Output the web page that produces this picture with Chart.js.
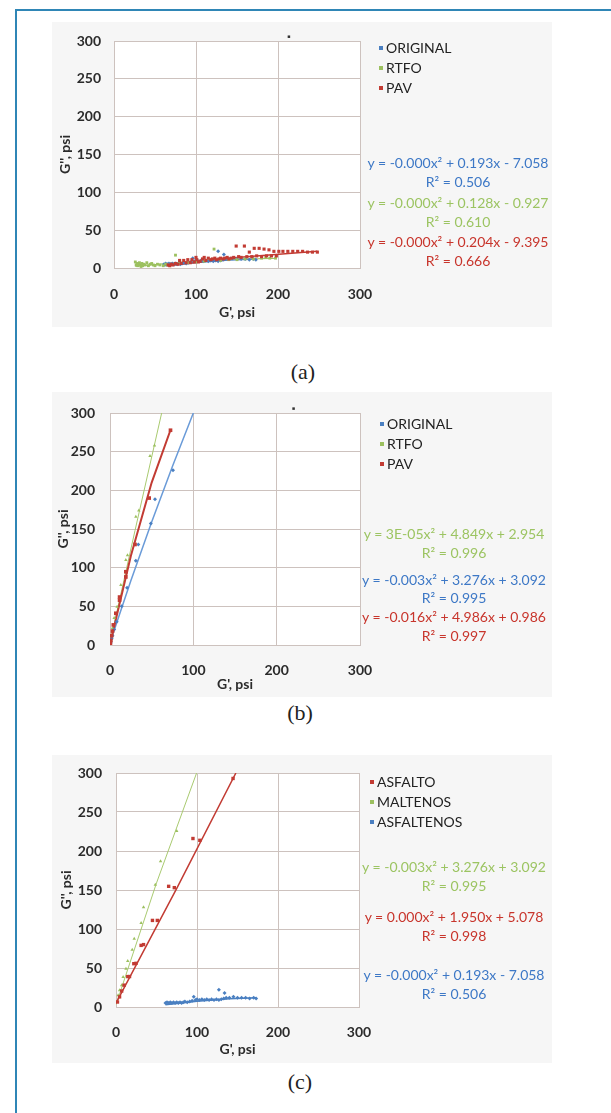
<!DOCTYPE html>
<html>
<head>
<meta charset="utf-8">
<script src="https://cdn.jsdelivr.net/npm/chart.js@4.4.1/dist/chart.umd.min.js"></script>
<style>
  body { margin: 0; width: 611px; height: 1113px; background: #fff; position: relative; overflow: hidden; font-family: Lato, sans-serif; }
  .frame { position: absolute; left: 15px; top: 9px; width: 610px; height: 1120px; border-left: 2px solid #2f86b6; border-top: 2px solid #2f86b6; }
  .panel { position: absolute; background: #f6f6f6; }
  canvas { position: absolute; }
  .leg { position: absolute; font-size: 14px; color: #222; }
  .leg div { height: 20px; line-height: 20px; white-space: nowrap; }
  .leg span { display: inline-block; width: 4px; height: 4px; margin-right: 3px; vertical-align: middle; position: relative; top: -1px; }
  .eq { position: absolute; width: 220px; text-align: center; font-size: 14px; line-height: 20px; height: 20px; white-space: nowrap; }
  .cap { position: absolute; width: 60px; text-align: center; font-family: 'Liberation Serif', serif; font-size: 22px; line-height: 26px; color: #222; }
</style>
</head>
<body>
<div class="frame"></div>

<div class="panel" style="left:52px;top:22px;width:500px;height:305px"></div>
<div class="panel" style="left:52px;top:392px;width:500px;height:305px"></div>
<div class="panel" style="left:52px;top:755px;width:500px;height:308px"></div>

<canvas id="chartA" width="350" height="305" style="left:40px;top:25px"></canvas>
<canvas id="chartB" width="350" height="300" style="left:40px;top:395px"></canvas>
<canvas id="chartC" width="350" height="305" style="left:40px;top:755px"></canvas>

<div id="legA" class="leg" style="left:379px;top:38px"></div>
<div id="legB" class="leg" style="left:380px;top:414px"></div>
<div id="legC" class="leg" style="left:370px;top:772px"></div>

<div id="eqs"></div>

<div class="cap" style="left:273px;top:359px">(a)</div>
<div class="cap" style="left:270px;top:700px">(b)</div>
<div class="cap" style="left:270px;top:1069px">(c)</div>

<script>
// ---- shared axis data
const xTicks = [0, 100, 200, 300];
const yTicks = [0, 50, 100, 150, 200, 250, 300];
const xTitle = "G', psi";
const yTitle = "G'', psi";

const blue = '#4a7fc1';
const green = '#9cc05f';
const red = '#c23b33';

// ---- (a) ORIGINAL / RTFO / PAV
const namesA = ['ORIGINAL', 'RTFO', 'PAV'];

// asfaltenos / original points (same fit in (a) and (c))
const asfaltenosX = [61,63,65,67,69,71,73,75,77,79,81,83,85,88,91,94,96,98,100,103,106,109,112,115,118,121,124,127,127,130,133,134,136,140,145,150,155,160,165,170,173];
const asfaltenosY = [5,6,5,6,5,6,5,6,5,6,5,6,7,6,7,8,13,9,10,9,10,9,10,9,10,9,10,9,22,10,11,18,12,12,13,12,12,12,11,12,11];
const asfaltenosTrendX = [61, 100, 140, 173];
const asfaltenosTrendY = [3, 7.4, 10.6, 12];

const rtfoAX = [26,27,28,29,30,31,32,33,34,35,36,38,40,42,44,46,48,50,53,56,60,63,65,75,80,90,100,110,122,130,140,150,160,170,180,185,190,197];
const rtfoAY = [8,4,6,3,5,7,4,2,6,3,5,4,7,3,5,6,4,3,5,4,3,5,4,17,6,7,8,9,25,10,11,11,12,12,13,14,13,13];
const rtfoATrendX = [26, 110, 197];
const rtfoATrendY = [2.2, 10.5, 12.7];

const pavAX = [66,68,70,72,75,78,80,82,85,88,90,93,95,98,100,101,103,105,108,110,112,115,118,120,123,125,128,130,133,135,138,140,143,146,149,152,155,159,162,165,168,171,174,177,180,183,186,189,192,195,198,201,206,212,218,224,230,236,242,248];
const pavAY = [4,3,5,4,6,5,10,6,10,7,11,7,11,8,14,11,8,9,12,14,10,13,11,12,13,11,12,13,12,13,14,12,13,14,29,15,14,29,15,21,15,26,16,26,15,25,16,24,16,22,16,22,22,22,22,22,22,21,21,21];
const pavATrendX = [66, 150, 248];
const pavATrendY = [3, 14, 22];

// small dark dot just above the plot top
const strayAX = [213];
const strayAY = [306];

const eqA = ['y = -0.000x² + 0.193x - 7.058', 'R² = 0.506',
             'y = -0.000x² + 0.128x - 0.927', 'R² = 0.610',
             'y = -0.000x² + 0.204x - 9.395', 'R² = 0.666'];

// ---- (b) ORIGINAL / RTFO / PAV
const namesB = ['ORIGINAL', 'RTFO', 'PAV'];
const origBX = [0.5,1,2,3,5,8,14,20.5,31,34,49,54,75.6];
const origBY = [2,4,8,12,20,30,50,74,109,130,157,188.5,226];
const origBTrendX = [0, 25, 50, 75, 100];
const origBTrendY = [3, 83, 159, 231, 300];

const rtfoBX = [0.5,1,2,3,5,8.5,13,19,21,31,34.6,48,53.4];
const rtfoBY = [3,6,12,22,35,49.5,77.5,110,116,165.7,174,244.5,258];
const rtfoBTrendX = [0, 30, 62];
const rtfoBTrendY = [3, 148, 300];

const pavBX = [0.5,1,2,3,4,7,11.5,11.5,19,19,30,47,72.6];
const pavBY = [2,6,12,18,26,41,58,62,88,94.7,130,190,277.7];
const pavBTrendX = [0, 25, 50, 72.6];
const pavBTrendY = [1, 115, 210, 278];

const strayBX = [220];
const strayBY = [306];

const eqB = ['y = 3E-05x² + 4.849x + 2.954', 'R² = 0.996',
             'y = -0.003x² + 3.276x + 3.092', 'R² = 0.995',
             'y = -0.016x² + 4.986x + 0.986', 'R² = 0.997'];

// ---- (c) ASFALTO / MALTENOS / ASFALTENOS
const namesC = ['ASFALTO', 'MALTENOS', 'ASFALTENOS'];
const asfaltoX = [1.8,4.4,7,10,14.5,16.7,22,24.7,31,34,45,51,65,72,95,103.5,144.5];
const asfaltoY = [6.4,13,20.5,28,39,39,55.5,56,79,80,111,111,154.7,153,216,213.7,293];
const asfaltoTrendX = [0, 75, 148];
const asfaltoTrendY = [5, 152, 300];

const maltenosX = [0.9,2.6,4.4,7,8.8,12.3,14.5,20,22.5,31,34,48.5,55,75];
const maltenosY = [6.4,15,21.4,27.8,38.5,49,59,73.5,87.6,107.7,128,156.8,186.8,225.6];
const maltenosTrendX = [0, 50, 99.5];
const maltenosTrendY = [3, 159, 300];

const eqC = ['y = -0.003x² + 3.276x + 3.092', 'R² = 0.995',
             'y = 0.000x² + 1.950x + 5.078', 'R² = 0.998',
             'y = -0.000x² + 0.193x - 7.058', 'R² = 0.506'];

// ---- helpers
const gridColor = '#cdc2be';
const tickColor = '#2b2b2b';
const tickFont = { family: 'Lato', size: 14, weight: 'bold' };
const titleFont = { family: 'Lato', size: 14, weight: 'bold' };

function pts(xs, ys) {
  return xs.map((x, i) => ({ x: x, y: ys[i] }));
}

function dots(label, xs, ys, color, style, r) {
  return { label: label, data: pts(xs, ys), showLine: false, pointStyle: style,
           pointRadius: r, pointBackgroundColor: color, pointBorderColor: color, pointBorderWidth: 0 };
}

function trend(xs, ys, color, w) {
  return { label: 'trend', data: pts(xs, ys), showLine: true, pointRadius: 0,
           borderColor: color, borderWidth: w, fill: false };
}

const plotBg = {
  id: 'plotBg',
  beforeDraw(chart) {
    const a = chart.chartArea, ctx = chart.ctx;
    ctx.save();
    ctx.fillStyle = '#ffffff';
    ctx.fillRect(a.left, a.top, a.right - a.left, a.bottom - a.top);
    ctx.restore();
  }
};

// points above the y max are skipped by the point element, so draw them here through the scales
const strayDots = {
  id: 'strayDots',
  afterDatasetsDraw(chart, args, opts) {
    if (!opts.xs) return;
    const ctx = chart.ctx, sx = chart.scales.x, sy = chart.scales.y;
    ctx.save();
    ctx.fillStyle = '#333';
    opts.xs.forEach((x, i) => {
      const px = sx.getPixelForValue(x), py = sy.getPixelForValue(opts.ys[i]);
      ctx.fillRect(px - 1, py - 1, 2.5, 2.5);
    });
    ctx.restore();
  }
};

function buildChart(id, datasets, g, strayXs, strayYs) {
  return new Chart(document.getElementById(id), {
    type: 'scatter',
    data: { datasets: datasets },
    plugins: [plotBg, strayDots],
    options: {
      responsive: false,
      animation: false,
      devicePixelRatio: 1,
      layout: { padding: { left: 0, top: g.padTop, right: g.padRight, bottom: 0 } },
      plugins: {
        legend: { display: false },
        tooltip: { enabled: false },
        strayDots: { xs: strayXs, ys: strayYs }
      },
      scales: {
        x: {
          type: 'linear', min: 0, max: 300,
          afterBuildTicks: s => { s.ticks = xTicks.map(v => ({ value: v })); },
          grid: { color: gridColor, drawTicks: false },
          border: { color: gridColor },
          ticks: { padding: g.xTickPad, color: tickColor, font: tickFont },
          title: { display: true, text: xTitle, color: '#2b2b2b', font: titleFont, padding: { top: 0, bottom: g.xTitlePad } },
          afterFit: s => { s.height = g.xHeight; s.paddingLeft = 0; s.paddingRight = 0; }
        },
        y: {
          type: 'linear', min: 0, max: 300,
          afterBuildTicks: s => { s.ticks = yTicks.map(v => ({ value: v })); },
          grid: { color: gridColor, drawTicks: false },
          border: { color: gridColor },
          ticks: { padding: g.yTickPad, color: tickColor, font: tickFont },
          title: { display: true, text: yTitle, color: '#2b2b2b', font: titleFont, padding: { top: g.yTitlePad, bottom: 0 } },
          afterFit: s => { s.width = g.yWidth; s.paddingTop = 0; s.paddingBottom = 0; }
        }
      }
    }
  });
}

function legend(id, names, colors) {
  const el = document.getElementById(id);
  names.forEach((n, i) => {
    el.innerHTML += '<div><span style="background:' + colors[i] + '"></span>' + n + '</div>';
  });
}

function equations(lines, colors, cx, tops) {
  const box = document.getElementById('eqs');
  lines.forEach((t, i) => {
    const d = document.createElement('div');
    d.className = 'eq';
    d.style.left = (cx - 110) + 'px';
    d.style.top = (tops[i] - 10) + 'px';
    d.style.color = colors[Math.floor(i / 2)];
    d.textContent = t;
    box.appendChild(d);
  });
}

// ---- charts (first dataset is drawn on top)
buildChart('chartA', [
  dots(namesA[2], pavAX, pavAY, red, 'rect', 2.2),
  dots(namesA[1], rtfoAX, rtfoAY, green, 'rect', 2),
  dots(namesA[0], asfaltenosX, asfaltenosY, blue, 'rectRot', 2),
  trend(pavATrendX, pavATrendY, red, 1.5),
  trend(rtfoATrendX, rtfoATrendY, green, 1),
  trend(asfaltenosTrendX, asfaltenosTrendY, blue, 1.5)
], { padTop: 16, padRight: 30, yWidth: 74, xHeight: 62, xTickPad: 18, xTitlePad: 9, yTickPad: 13, yTitlePad: 17 },
   strayAX, strayAY);

buildChart('chartB', [
  dots(namesB[2], pavBX, pavBY, red, 'rect', 2.6),
  dots(namesB[0], origBX, origBY, blue, 'rectRot', 2),
  dots(namesB[1], rtfoBX, rtfoBY, green, 'triangle', 2),
  trend(pavBTrendX, pavBTrendY, red, 2),
  trend(origBTrendX, origBTrendY, '#6a9bd8', 1.5),
  trend(rtfoBTrendX, rtfoBTrendY, '#a9ca70', 1)
], { padTop: 18, padRight: 30, yWidth: 70, xHeight: 50, xTickPad: 17, xTitlePad: 2, yTickPad: 15, yTitlePad: 15 },
   strayBX, strayBY);

buildChart('chartC', [
  dots(namesC[0], asfaltoX, asfaltoY, red, 'rect', 2.4),
  dots(namesC[1], maltenosX, maltenosY, green, 'triangle', 2),
  dots(namesC[2], asfaltenosX, asfaltenosY, blue, 'rectRot', 2),
  trend(asfaltoTrendX, asfaltoTrendY, red, 1.5),
  trend(maltenosTrendX, maltenosTrendY, '#a9ca70', 1),
  trend(asfaltenosTrendX, asfaltenosTrendY, blue, 1.5)
], { padTop: 18, padRight: 31, yWidth: 76, xHeight: 53, xTickPad: 17, xTitlePad: 2, yTickPad: 14, yTitlePad: 18 });

legend('legA', namesA, [blue, green, red]);
legend('legB', namesB, [blue, green, red]);
legend('legC', namesC, [red, green, blue]);

equations(eqA, ['#3d78c6', '#9cc462', '#c8352c'], 458, [163, 182, 203, 222, 242, 261]);
equations(eqB, ['#9cc462', '#3d78c6', '#c8352c'], 454, [534, 553, 580, 598, 617, 636]);
equations(eqC, ['#9cc462', '#c8352c', '#3d78c6'], 454, [867, 886, 917, 936, 975, 994]);
</script>
</body>
</html>
